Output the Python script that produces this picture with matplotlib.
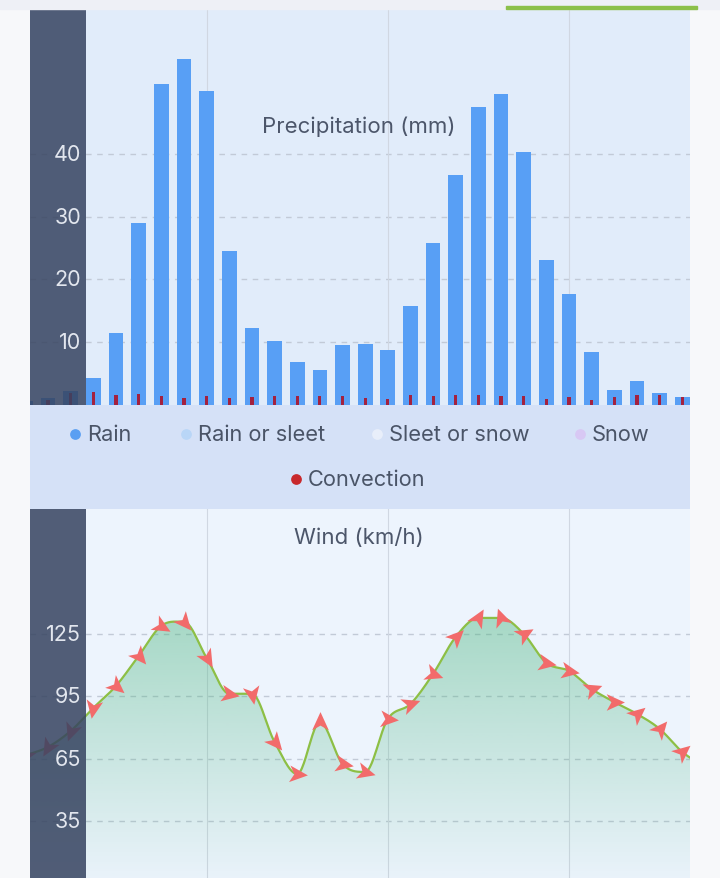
import numpy as np
import matplotlib.pyplot as plt
from matplotlib.patches import Rectangle
from matplotlib.path import Path
from matplotlib.markers import MarkerStyle
from matplotlib.transforms import Affine2D, blended_transform_factory

plt.rcParams['font.family'] = ['Inter', 'DejaVu Sans']

# 3-hourly steps, one slot per bar / wind point
rain = [0.6, 1.0, 2.2, 4.3, 11.5, 29.0, 51.1, 55.2, 50.1, 24.5, 12.3, 10.1, 6.8, 5.6, 9.5,
        9.6, 8.8, 15.7, 25.8, 36.6, 47.5, 49.6, 40.3, 23.0, 17.7, 8.4, 2.4, 3.7, 1.9, 1.3]
convection = [0.3, 0.8, 1.9, 2.1, 1.6, 1.7, 1.4, 1.0, 1.4, 1.1, 1.2, 1.4, 1.4, 1.4, 1.4,
              1.0, 0.9, 1.6, 1.4, 1.5, 1.5, 1.4, 1.4, 0.9, 1.3, 0.8, 1.2, 1.6, 1.5, 1.3]
# one extra step past the visible window so the curve runs to the edge
wind = [66.5, 70.6, 78.3, 89.4, 100.0, 114.4, 128.9, 130.8, 113.5, 96.2, 96.2, 73.0, 57.6, 82.6, 62.4,
        58.6, 84.1, 91.3, 105.8, 123.6, 132.7, 132.7, 125.0, 111.0, 107.2, 98.5, 92.2, 86.5, 79.3, 68.2,
        61.0]
# arrow heading on screen, degrees counter-clockwise from east
wind_dir = [-120, -120, -110, -100, -40, -50, -30, -50, -60, -10, -80, -50, -5, 90, -10,
            -15, -5, 20, -20, 45, 60, 110, 30, -10, -10, 20, 0, 40, 50, 40, 40]
prec_ticks = [10, 20, 30, 40]
wind_ticks = [35, 65, 95, 125]
day_lines = [8, 16, 24]
legend_names = ['Rain', 'Rain or sleet', 'Sleet or snow', 'Snow', 'Convection']
legend_colors = ['#5a9ff2', '#b9d6f7', '#e8eefa', '#d8c8f4', '#c8282c']

W, H = 720, 879
fig = plt.figure(figsize=(W / 100, H / 100), dpi=100)
fig.patch.set_facecolor('#f7f8fa')


def px_axes(x0, y0, x1, y1):
    return fig.add_axes([x0 / W, 1 - y1 / H, (x1 - x0) / W, (y1 - y0) / H])


def smooth(xv, yv, n=24):
    xv = np.asarray(xv, float)
    yv = np.asarray(yv, float)
    m = np.zeros_like(yv)
    for i in range(len(yv)):
        if i == 0:
            m[i] = yv[1] - yv[0]
        elif i == len(yv) - 1:
            m[i] = yv[-1] - yv[-2]
        elif (yv[i] - yv[i - 1]) * (yv[i + 1] - yv[i]) <= 0:
            m[i] = 0
        else:
            m[i] = (yv[i + 1] - yv[i - 1]) / 2
    xs, ys = [], []
    t = np.linspace(0, 1, n, endpoint=False)
    for i in range(len(yv) - 1):
        h00 = 2 * t**3 - 3 * t**2 + 1
        h10 = t**3 - 2 * t**2 + t
        h01 = -2 * t**3 + 3 * t**2
        h11 = t**3 - t**2
        xs.append(xv[i] + t * (xv[i + 1] - xv[i]))
        ys.append(h00 * yv[i] + h10 * m[i] + h01 * yv[i + 1] + h11 * m[i + 1])
    xs.append([xv[-1]])
    ys.append([yv[-1]])
    return np.concatenate(xs), np.concatenate(ys)


x = np.arange(len(rain))
xw = np.arange(len(wind))
XLIM = (0.203, 29.34)
OVER_W = 56 / 660
LABEL_X = (81 - 30) / 660

# page decorations
fig.patches.append(Rectangle((0, 1 - 10 / H), 1, 10 / H, transform=fig.transFigure,
                             color='#eef0f6', zorder=0))
fig.patches.append(Rectangle((506 / W, 1 - 10 / H), 191 / W, 3 / H, transform=fig.transFigure,
                             color='#8cc04a', zorder=5))


def setup(ax, ticks, bg):
    ax.set_facecolor(bg)
    ax.set_xlim(*XLIM)
    for s in ax.spines.values():
        s.set_visible(False)
    ax.set_xticks([])
    ax.set_yticks([])
    for t in ticks:
        ax.axhline(t, color='#c2cad7', lw=1, ls=(0, (4, 4)), zorder=1)
    for d in day_lines:
        ax.axvline(d, color='#d0d7e2', lw=0.8, zorder=1)
    ax.add_patch(Rectangle((0, 0), OVER_W, 1, transform=ax.transAxes, color='#374461',
                           alpha=0.86, zorder=10, lw=0))
    tr = blended_transform_factory(ax.transAxes, ax.transData)
    for t in ticks:
        ax.text(LABEL_X, t, str(t), transform=tr, ha='right', va='center',
                color='#e2e6ee', fontsize=15.5, zorder=11)


# precipitation
ax1 = px_axes(30, 10, 690, 405.7)
setup(ax1, prec_ticks, '#e1ecfa')
ax1.set_ylim(0, 63.1)
ax1.bar(x, rain, width=0.65, color='#589ff5', zorder=3)
ax1.bar(x, convection, width=0.14, color='#a3213f', zorder=4)
fig.text(359 / W, 1 - 127 / H, 'Precipitation (mm)', ha='center', va='center',
         color='#4c566a', fontsize=16)

# legend band
ax3 = px_axes(30, 405.7, 690, 510)
ax3.set_facecolor('#d5e1f7')
ax3.set_xlim(30, 690)
ax3.set_ylim(510, 405.7)
ax3.axis('off')
ax3.add_patch(Rectangle((30, 405.7), 660, 104.3, color='#d5e1f7', zorder=0))
leg_pos = [(75, 435), (186, 435), (377, 435), (580, 435), (296, 480)]
for name, col, (lx, ly) in zip(legend_names, legend_colors, leg_pos):
    ax3.scatter([lx], [ly], s=60, color=col, zorder=2, lw=0)
    ax3.text(lx + 12, ly, name, ha='left', va='center', color='#4a5467', fontsize=15.7)

# wind
ax2 = px_axes(30, 510, 690, 879)
setup(ax2, wind_ticks, '#edf4fd')
xs, ys = smooth(xw, wind)
poly = ax2.fill_between(xs, ys, 0, color='none', lw=0)
grad = np.zeros((256, 1, 4))
grad[:, 0, :3] = np.array([78, 182, 128]) / 255
grad[:, 0, 3] = np.linspace(0.62, 0.0, 256)
img = ax2.imshow(grad, extent=[XLIM[0] - 1, XLIM[1] + 2, 0, 185.1], aspect='auto',
                 origin='upper', zorder=2)
img.set_clip_path(poly.get_paths()[0], ax2.transData)
ax2.plot(xs, ys, color='#8dbf45', lw=1.6, zorder=5)

arrow = Path([(1, 0), (-0.75, 0.8), (-0.3, 0), (-0.75, -0.8), (1, 0)],
             [Path.MOVETO, Path.LINETO, Path.LINETO, Path.LINETO, Path.CLOSEPOLY])
for xi, wi, di in zip(xw, wind, wind_dir):
    ms = MarkerStyle(arrow, transform=Affine2D().rotate_deg(di))
    ax2.plot(xi, wi, marker=ms, ms=15, color='#f26b6b', mec='none', zorder=6)
ax2.set_xlim(*XLIM)
ax2.set_ylim(7.55, 185.1)
fig.text(359 / W, 1 - 538 / H, 'Wind (km/h)', ha='center', va='center',
         color='#4c566a', fontsize=16)

fig.savefig('out.png', dpi=100, facecolor=fig.get_facecolor())
